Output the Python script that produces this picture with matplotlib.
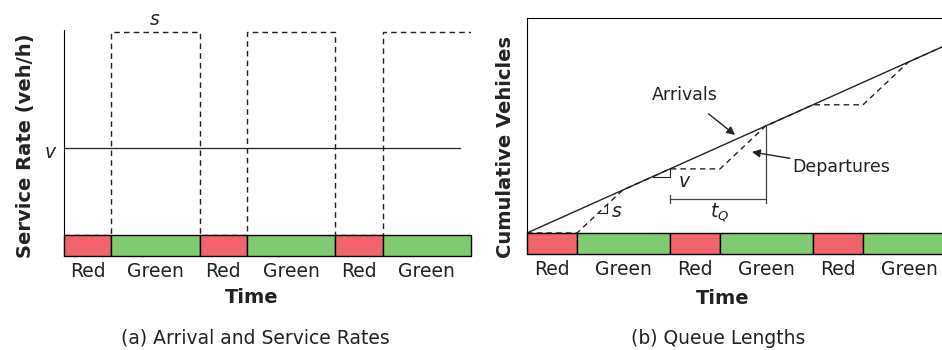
import matplotlib.pyplot as plt
from matplotlib.patches import Rectangle

# signal timing (time units), three cycles
phases = ['Red', 'Green', 'Red', 'Green', 'Red', 'Green']
durations = [35, 65, 35, 65, 35, 65]
phase_colors = {'Red': '#F2646B', 'Green': '#7FCB72'}

# (a) rates
arrival_rate = 1.0
sat_flow = 2.33
rate_t = [0, 35, 35, 100, 100, 135, 135, 200, 200, 235, 235, 300]
rate_s = [0, 0, 2.33, 2.33, 0, 0, 2.33, 2.33, 0, 0, 2.33, 2.33]
v_line_end = 292

# (b) cumulative curves
arr_t = [0, 300]
arr_n = [0, 300]
dep_t = [0, 35, 66.8, 100, 135, 166.8, 200, 235, 266.8, 300]
dep_n = [0, 0, 66.8, 100, 100, 166.8, 200, 200, 266.8, 300]
tq_start, tq_end, tq_level = 100, 166.8, 53

fs = 13.5
fslab = 14
fscap = 13.5
ink = '#222222'

fig = plt.figure(figsize=(9.42, 3.5), dpi=100)


def signal_bar(ax, height):
    start = 0
    centers = []
    for ph, d in zip(phases, durations):
        ax.add_patch(Rectangle((start, -height), d, height, facecolor=phase_colors[ph],
                               edgecolor='black', linewidth=1.0, zorder=3, clip_on=False))
        centers.append(start + d / 2.0)
        start += d
    ax.set_xticks(centers)
    ax.set_xticklabels(phases, fontsize=fs, color=ink)
    ax.tick_params(axis='x', length=0, pad=4)
    ax.set_yticks([])
    ax.spines['bottom'].set_visible(False)
    ax.spines['right'].set_visible(False)


# (a) arrival and service rates
ax1 = fig.add_axes([64/942., (350-256)/350., 407/942., (256-30)/350.])
bar1 = 0.241
ax1.set_xlim(0, 300)
ax1.set_ylim(-bar1, 2.355)
signal_bar(ax1, bar1)
ax1.spines['top'].set_visible(False)
ax1.plot([0, v_line_end], [arrival_rate, arrival_rate], color=ink, lw=0.9)
ax1.plot(rate_t, rate_s, color=ink, lw=1.0, linestyle=(0, (4, 3)))
ax1.text(67, 2.47, 's', fontsize=fs, style='italic', ha='center', va='center', color=ink)
ax1.text(-6, 0.95, 'v', fontsize=fs, style='italic', ha='right', va='center', color=ink)
ax1.set_ylabel('Service Rate (veh/h)', fontsize=fslab, fontweight='bold', color=ink)
ax1.yaxis.set_label_coords(-0.071, 0.49)
ax1.set_xlabel('Time', fontsize=fslab, fontweight='bold', color=ink)
ax1.xaxis.set_label_coords(0.46, -0.142)

# (b) queue lengths
ax2 = fig.add_axes([527/942., (350-254)/350., 429/942., 236/350.])
bar2 = 32.8
ax2.set_xlim(0, 300)
ax2.set_ylim(-bar2, 335.4)
signal_bar(ax2, bar2)
ax2.plot(arr_t, arr_n, color=ink, lw=1.0)
ax2.plot(dep_t, dep_n, color=ink, lw=1.0, linestyle=(0, (4, 3)))

# queue clearance time bracket
ax2.plot([tq_start, tq_end], [tq_level, tq_level], color='#444444', lw=0.9)
ax2.plot([tq_start, tq_start], [tq_level - 6, tq_level + 6], color='#444444', lw=0.9)
ax2.plot([tq_end, tq_end], [tq_level - 6, tq_end], color='#444444', lw=0.9)
ax2.text(135, 31, '$t_Q$', fontsize=fs, ha='center', va='center', color=ink)

# slope triangles
ax2.plot([88, 100, 100], [88, 88, 100], color=ink, lw=0.8)
ax2.text(106, 80, 'v', fontsize=fs, style='italic', ha='left', va='center', color=ink)
ax2.plot([50, 56, 56], [31.5, 31.5, 44.1], color=ink, lw=0.8)
ax2.text(59, 34, 's', fontsize=fs, style='italic', ha='left', va='center', color=ink)

ax2.annotate('Arrivals', xy=(145.5, 153), xytext=(110.5, 215), fontsize=12.5,
             ha='center', va='center', color=ink,
             arrowprops=dict(arrowstyle='-|>', color=ink, lw=1.0, mutation_scale=12,
                             shrinkA=8, shrinkB=0))
ax2.annotate('Departures', xy=(157.3, 126.4), xytext=(220, 103), fontsize=12.5,
             ha='center', va='center', color=ink,
             arrowprops=dict(arrowstyle='-|>', color=ink, lw=1.0, mutation_scale=12,
                             shrinkA=28, shrinkB=0))
ax2.set_ylabel('Cumulative Vehicles', fontsize=fslab, fontweight='bold', color=ink)
ax2.yaxis.set_label_coords(-0.028, 0.453)
ax2.set_xlabel('Time', fontsize=fslab, fontweight='bold', color=ink)
ax2.xaxis.set_label_coords(0.457, -0.148)

fig.text(255/942., 1 - 338/350., '(a) Arrival and Service Rates', fontsize=fscap,
         ha='center', va='center', color=ink)
fig.text(718/942., 1 - 338/350., '(b) Queue Lengths', fontsize=fscap,
         ha='center', va='center', color=ink)

plt.savefig('out.png', dpi=100)
plt.close()
